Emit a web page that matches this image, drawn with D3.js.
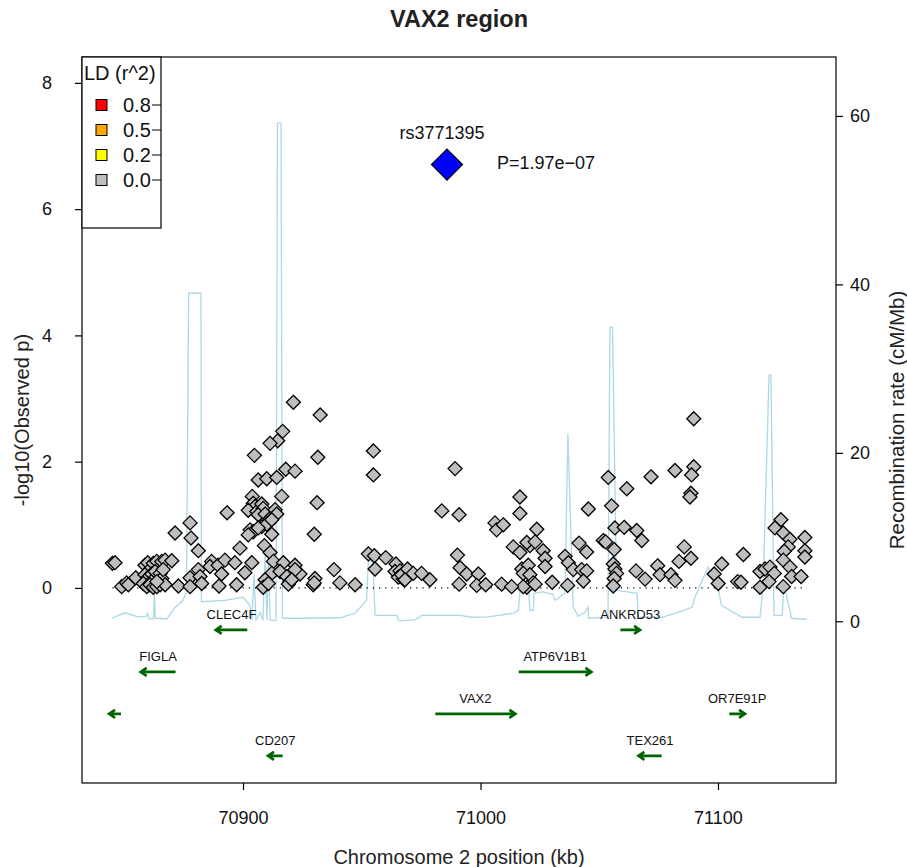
<!DOCTYPE html>
<html>
<head>
<meta charset="utf-8">
<script src="https://cdn.jsdelivr.net/npm/d3@7"></script>
<style>
  body { margin: 0; background: #fff; }
  svg text { font-family: "Liberation Sans", Arial, Helvetica, sans-serif; }
</style>
</head>
<body>
<svg id="chart" width="907" height="867"></svg>
<script>
// ---- data (positions in kb) ----
var snpPos = [
  70845.0, 70846.1, 70848.9, 70851.0, 70851.7, 70854.8, 70858.7, 70859.9, 70860.8, 70862.2,
  70863.7, 70865.8, 70867.2, 70870.0, 70858.7, 70860.1, 70861.6, 70862.2, 70863.0, 70865.1,
  70865.8, 70866.4, 70858.0, 70859.5, 70860.8, 70862.2, 70863.7, 70865.1, 70867.2, 70863.7,
  70871.4, 70877.7, 70878.1, 70881.2, 70872.8, 70877.7, 70877.7, 70881.2, 70881.9, 70882.6,
  70886.8, 70886.1, 70889.5, 70891.0, 70889.9, 70893.3,
  70921.2, 70932.5, 70916.7, 70914.6, 70911.4, 70904.8, 70931.5, 70918.0, 70921.9, 70906.4,
  70910.0, 70914.2, 70916.3, 70903.9, 70931.2, 70904.3, 70905.1, 70902.2, 70905.8, 70907.9,
  70908.5, 70906.4, 70909.3, 70911.4, 70913.5, 70914.2, 70910.7, 70907.9, 70910.0, 70912.1,
  70903.0, 70904.3, 70902.2, 70906.4, 70912.1, 70930.0, 70898.7, 70909.0, 70911.4, 70892.4,
  70896.6, 70903.7, 70897.3, 70900.8, 70912.8, 70917.0, 70921.9, 70912.1, 70909.3, 70908.5,
  70910.7, 70915.6, 70918.4, 70919.8, 70924.0, 70921.9, 70919.1, 70920.5, 70930.3, 70929.6,
  70930.0, 70938.3, 70940.8,
  70947.2, 70954.9, 70954.9, 70952.8, 70955.3, 70960.1, 70955.6, 70964.4, 70964.0, 70966.1,
  70965.4, 70967.5, 70966.8, 70969.3, 70968.2, 70971.7, 70975.2, 70978.7, 70983.7, 70989.3,
  70991.0, 70990.3, 70991.4, 70991.0,
  70994.2, 70999.1, 70998.4, 71002.2, 71006.1, 71006.8, 71009.6, 71016.6, 71016.6, 71023.7,
  71013.8, 71016.6, 71020.8, 71019.5, 71023.0, 71026.4, 71027.2, 71027.2, 71017.4, 71020.1,
  71018.0, 71020.8, 71022.2, 71019.5, 71018.0, 71023.0, 71008.9, 71013.1, 71030.2, 71036.7,
  71035.6, 71037.0, 71039.1, 71041.5,
  71053.8, 71045.4, 71055.2, 71061.6, 71071.8, 71081.9, 71089.8, 71089.8, 71088.9, 71088.6,
  71088.2, 71056.6, 71060.5, 71065.8, 71067.9, 71044.7, 71051.7, 71052.7, 71056.3, 71055.9,
  71056.6, 71057.3, 71056.3, 71055.9, 71042.6, 71044.7, 71043.3, 71065.5, 71069.3, 71074.6,
  71075.6, 71080.2, 71081.9, 71083.6, 71085.8, 71088.6,
  71101.6, 71098.4, 71100.1, 71110.7, 71108.3, 71109.7, 71117.7, 71119.8, 71121.9, 71123.7,
  71121.5, 71117.7, 71126.5, 71124.0, 71127.5, 71130.3, 71136.6, 71129.6, 71127.9, 71136.6,
  71136.6, 71127.5, 71130.3, 71131.0, 71135.0, 71127.5
];
var snpLogP = [
  0.39, 0.40, 0.02, 0.08, 0.05, 0.16, 0.36, 0.40, 0.29, 0.39,
  0.42, 0.42, 0.44, 0.43, 0.21, 0.17, 0.22, 0.13, 0.26, 0.23,
  0.15, 0.29, 0.07, 0.02, 0.05, 0.01, 0.02, 0.05, 0.05, 0.10,
  0.87, 1.03, 0.79, 0.59, 0.03, 0.16, 0.02, 0.29, 0.18, 0.07,
  0.42, 0.34, 0.36, 0.22, 0.03, 1.19,
  2.94, 2.74, 2.48, 2.33, 2.29, 2.10, 2.07, 1.88, 1.85, 1.71,
  1.73, 1.75, 1.45, 1.45, 1.35, 1.34, 1.29, 1.23, 1.21, 1.33,
  1.26, 1.16, 1.17, 1.10, 1.24, 1.17, 1.03, 0.97, 1.01, 1.08,
  0.92, 0.89, 0.84, 0.95, 0.85, 0.85, 0.63, 0.67, 0.56, 0.44,
  0.40, 0.40, 0.05, 0.24, 0.42, 0.40, 0.36, 0.23, 0.13, 0.01,
  0.07, 0.26, 0.18, 0.10, 0.22, 0.29, 0.06, 0.13, 0.15, 0.05,
  0.08, 0.29, 0.08,
  0.05, 2.17, 1.79, 0.54, 0.51, 0.48, 0.30, 0.38, 0.26, 0.27,
  0.17, 0.14, 0.21, 0.30, 0.13, 0.23, 0.23, 0.13, 1.22, 1.89,
  1.16, 0.52, 0.32, 0.06,
  0.22, 0.22, 0.04, 0.05, 1.03, 0.92, 1.00, 1.44, 1.18, 0.93,
  0.65, 0.56, 0.67, 0.72, 0.73, 0.59, 0.47, 0.34, 0.30, 0.36,
  0.23, 0.21, 0.08, 0.01, 0.02, 0.06, 0.06, 0.02, 0.09, 0.04,
  0.50, 0.40, 0.29, 0.71,
  1.75, 1.25, 1.30, 1.57, 1.76, 1.86, 2.68, 1.92, 1.79, 1.50,
  1.44, 0.95, 0.96, 0.91, 0.75, 0.57, 0.75, 0.73, 0.61, 0.38,
  0.30, 0.23, 0.15, 0.03, 0.29, 0.27, 0.11, 0.27, 0.14, 0.35,
  0.21, 0.21, 0.12, 0.42, 0.65, 0.47,
  0.38, 0.22, 0.07, 0.53, 0.10, 0.09, 0.26, 0.30, 0.33, 0.23,
  0.10, 0.01, 1.08, 0.95, 0.87, 0.77, 0.80, 0.65, 0.58, 0.59,
  0.49, 0.44, 0.33, 0.18, 0.18, 0.02
];

var topSnpName = "rs3771395";
var topSnpPos = 70985.9;
var topSnpP = 1.97e-07;

var recombPos = [
  70844.6, 70850.3, 70855.8, 70859.2, 70859.8, 70860.4, 70862.3, 70862.7, 70863.0, 70868.0,
  70871.4, 70872.6, 70874.7, 70876.2, 70877.1, 70882.3, 70882.5, 70892.4, 70900.0, 70902.9,
  70903.8, 70904.6, 70905.5, 70907.2, 70908.4, 70909.3, 70910.1, 70910.7, 70911.4, 70913.9,
  70914.5, 70916.0, 70916.6, 70924.0, 70940.8, 70947.2, 70952.0, 70952.8, 70954.7, 70955.6,
  70964.8, 70965.5, 70972.4, 70975.4, 70991.4, 70996.4, 71003.2, 71013.7, 71016.0, 71016.6,
  71020.4, 71020.8, 71022.3, 71022.5, 71026.3, 71030.5, 71031.4, 71035.6, 71036.8, 71039.0,
  71041.1, 71044.0, 71045.3, 71045.5, 71053.7, 71054.5, 71055.6, 71057.3, 71065.9, 71066.5,
  71076.4, 71081.9, 71089.1, 71090.3, 71095.8, 71100.0, 71101.5, 71110.1, 71117.7, 71119.0,
  71121.5, 71122.3, 71123.6, 71127.0, 71127.6, 71128.6, 71131.0, 71137.5
];
var recombRate = [
  0.36, 1.01, 0.53, 0.59, 0.95, 0.30, 0.30, 3.68, 0.36, 0.30,
  1.66, 1.90, 2.49, 3.44, 38.95, 38.95, 2.32, 2.49, 2.85, 1.90,
  0.12, 5.58, 0.12, 1.07, 0.12, 8.08, 0.12, 8.08, 0.12, 0.12,
  59.14, 59.14, 0.36, 0.36, 0.42, 0.95, 2.49, 7.24, 7.13, 0.71,
  0.71, 0.06, 0.18, 0.71, 0.71, 0.48, 0.53, 0.95, 1.31, 3.50,
  3.33, 1.31, 1.31, 3.33, 3.50, 3.21, 2.49, 3.33, 22.33, 1.72,
  0.59, 1.07, 1.66, 0.36, 0.48, 34.92, 34.92, 3.68, 3.33, 0.48,
  0.48, 0.95, 1.66, 2.85, 6.41, 4.04, 1.90, 0.48, 0.48, 4.04,
  29.22, 29.22, 0.71, 0.71, 3.33, 3.33, 0.36, 0.24
];

var geneNames  = ["CLEC4F", "ANKRD53", "FIGLA", "ATP6V1B1", "", "VAX2", "OR7E91P", "CD207", "TEX261"];
var geneStart  = [70888.5, 71058.9, 70856.9, 71016.1, 70843.6, 70981.0, 71104.8, 70910.5, 71066.5];
var geneEnd    = [70901.8, 71067.2, 70871.6, 71046.7, 70848.6, 71014.7, 71111.4, 70916.7, 71076.3];
var geneStrand = ["-", "+", "-", "+", "-", "+", "+", "-", "-"];
var geneRow    = [1, 1, 2, 2, 3, 3, 3, 4, 4];

var ldLabels = ["0.8", "0.5", "0.2", "0.0"];
var ldColors = ["#FF0000", "#FFA500", "#FFFF00", "#BEBEBE"];

var xTicks = [70900, 71000, 71100];
var yTicks = [0, 2, 4, 6, 8];
var rTicks = [0, 20, 40, 60];

// ---- layout ----
var svg = d3.select("#chart");
var pLeft = 82, pRight = 836, pTop = 57, pBottom = 783;

var x = d3.scaleLinear().domain([70832.2, 71149.7]).range([pLeft, pRight]);
var y = d3.scaleLinear().domain([-3.09, 8.41]).range([pBottom, pTop]);
var yr = d3.scaleLinear().domain([-19.2, 67.0]).range([pBottom, pTop]);

var plot = svg.append("g");

// recombination rate
var recomb = recombPos.map(function (d, i) { return [d, recombRate[i]]; });
plot.append("path")
    .datum(recomb)
    .attr("fill", "none")
    .attr("stroke", "#ADD8E6")
    .attr("stroke-width", 1.3)
    .attr("d", d3.line().x(function (d) { return x(d[0]); }).y(function (d) { return yr(d[1]); }));

// zero line
plot.append("line")
    .attr("x1", x(d3.min(snpPos))).attr("x2", x(d3.max(recombPos)))
    .attr("y1", y(0)).attr("y2", y(0))
    .attr("stroke", "#000").attr("stroke-width", 1.2)
    .attr("stroke-dasharray", "1.2,5");

// snps
function diamond(cx, cy, r) {
  return "M" + cx + "," + (cy - r) + "L" + (cx + r) + "," + cy + "L" + cx + "," + (cy + r) + "L" + (cx - r) + "," + cy + "Z";
}
var snps = snpPos.map(function (d, i) { return {pos: d, p: snpLogP[i]}; });
plot.selectAll(".snp")
    .data(snps)
    .enter()
    .append("path")
    .attr("class", "snp")
    .attr("d", function (d) { return diamond(x(d.pos), y(d.p), 7); })
    .attr("fill", "#BEBEBE")
    .attr("stroke", "#000")
    .attr("stroke-width", 1.3);

// top snp
var topLog = -Math.log10(topSnpP);
plot.append("path")
    .attr("d", diamond(x(topSnpPos), y(topLog), 15.5))
    .attr("fill", "#0000FF")
    .attr("stroke", "#000")
    .attr("stroke-width", 1.2);
plot.append("text")
    .attr("x", x(topSnpPos) - 5).attr("y", y(topLog) - 26)
    .attr("text-anchor", "middle")
    .attr("font-size", 18)
    .attr("fill", "#111")
    .text(topSnpName);
plot.append("text")
    .attr("x", x(topSnpPos) + 50).attr("y", y(topLog) + 4)
    .attr("font-size", 18)
    .attr("fill", "#111")
    .text("P=" + topSnpP.toExponential(2).replace("e-7", "e\u221207"));

// genes
var rowStep = 0.665;
var genes = geneNames.map(function (d, i) {
  return {name: d, start: geneStart[i], end: geneEnd[i], strand: geneStrand[i], row: geneRow[i]};
});
var g = plot.selectAll(".gene")
    .data(genes)
    .enter()
    .append("g")
    .attr("class", "gene");

g.append("path")
    .attr("fill", "none")
    .attr("stroke", "#006400")
    .attr("stroke-width", 2.6)
    .attr("stroke-linejoin", "miter")
    .attr("d", function (d) {
      var yy = y(-d.row * rowStep), a = x(d.start), b = x(d.end);
      var tip = d.strand === "+" ? b : a, dir = d.strand === "+" ? -1 : 1;
      return "M" + a + "," + yy + "L" + b + "," + yy +
             "M" + (tip + dir * 6) + "," + (yy - 4) + "L" + tip + "," + yy + "L" + (tip + dir * 6) + "," + (yy + 4);
    });

g.append("text")
    .attr("x", function (d) { return (x(d.start) + x(d.end)) / 2; })
    .attr("y", function (d) { return y(-d.row * rowStep) - 11; })
    .attr("text-anchor", "middle")
    .attr("font-size", 13)
    .attr("fill", "#111")
    .text(function (d) { return d.name; });

// frame
svg.append("rect")
    .attr("x", pLeft).attr("y", pTop)
    .attr("width", pRight - pLeft).attr("height", pBottom - pTop)
    .attr("fill", "none").attr("stroke", "#000").attr("stroke-width", 1.2);

// axes
var ax = svg.append("g").attr("transform", "translate(0," + pBottom + ")")
    .call(d3.axisBottom(x).tickValues(xTicks).tickSize(7).tickSizeOuter(0).tickFormat(d3.format("d")));
var ayl = svg.append("g").attr("transform", "translate(" + pLeft + ",0)")
    .call(d3.axisLeft(y).tickValues(yTicks).tickSize(7).tickSizeOuter(0));
var ayr = svg.append("g").attr("transform", "translate(" + pRight + ",0)")
    .call(d3.axisRight(yr).tickValues(rTicks).tickSize(7).tickSizeOuter(0));

[ax, ayl, ayr].forEach(function (a) {
  a.select(".domain").remove();
  a.selectAll("line").attr("stroke", "#000").attr("stroke-width", 1.2);
  a.selectAll("text").attr("font-size", 18).attr("fill", "#111")
      .style("font-family", "'Liberation Sans', Arial, sans-serif");
});
ax.selectAll("text").attr("dy", "1.7em");
ayl.selectAll("text").attr("x", -30);
ayr.selectAll("text").attr("x", 14);

// titles
svg.append("text")
    .attr("x", 459).attr("y", 27)
    .attr("text-anchor", "middle")
    .attr("font-size", 23.5).attr("font-weight", "bold")
    .attr("fill", "#222")
    .text("VAX2 region");
svg.append("text")
    .attr("x", 459).attr("y", 864)
    .attr("text-anchor", "middle")
    .attr("font-size", 20).attr("fill", "#222")
    .text("Chromosome 2 position (kb)");
svg.append("text")
    .attr("transform", "translate(29,420) rotate(-90)")
    .attr("text-anchor", "middle")
    .attr("font-size", 20).attr("fill", "#222")
    .text("-log10(Observed p)");
svg.append("text")
    .attr("transform", "translate(904,420) rotate(-90)")
    .attr("text-anchor", "middle")
    .attr("font-size", 20.5).attr("fill", "#222")
    .text("Recombination rate (cM/Mb)");

// legend
var leg = svg.append("g");
leg.append("rect")
    .attr("x", pLeft).attr("y", pTop)
    .attr("width", 79).attr("height", 171)
    .attr("fill", "#fff").attr("stroke", "#000").attr("stroke-width", 1.2);
leg.append("text")
    .attr("x", 84).attr("y", 80)
    .attr("font-size", 20).attr("fill", "#111")
    .text("LD (r^2)");
var li = leg.selectAll(".li")
    .data(ldLabels)
    .enter()
    .append("g")
    .attr("transform", function (d, i) { return "translate(0," + (105 + i * 25) + ")"; });
li.append("rect")
    .attr("x", 96).attr("y", -5.5).attr("width", 11).attr("height", 11)
    .attr("fill", function (d, i) { return ldColors[i]; })
    .attr("stroke", "#000").attr("stroke-width", 1);
li.append("text")
    .attr("x", 123).attr("y", 7)
    .attr("font-size", 20).attr("fill", "#111")
    .text(function (d) { return d; });
li.append("line")
    .attr("x1", 152).attr("x2", 161).attr("y1", 0).attr("y2", 0)
    .attr("stroke", "#000").attr("stroke-width", 1);
</script>
</body>
</html>
